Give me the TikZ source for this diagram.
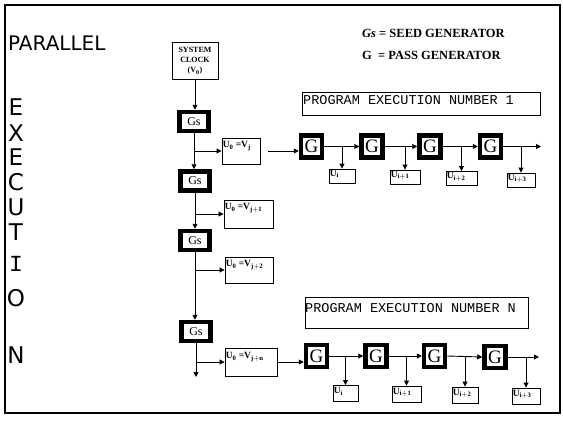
\documentclass[tikz,border=0pt]{standalone}
\usepackage{fontspec}
\setmainfont{Liberation Serif}
\newfontfamily\sansf{DejaVu Sans}
\newfontfamily\monof{Liberation Mono}
\usetikzlibrary{arrows.meta}
\begin{document}
\begin{tikzpicture}[x=1pt,y=-1pt,
  gsbox/.style={draw,line width=4.5pt,minimum width=29pt,minimum height=19pt,inner sep=0pt,font=\fontsize{12}{12}\selectfont},
  gbox/.style={draw,line width=4.5pt,minimum width=21pt,minimum height=22pt,inner sep=0pt,font=\fontsize{19}{19}\selectfont},
  thinbox/.style={draw,line width=0.9pt,inner sep=0pt},
  vtext/.style={inner sep=0pt,anchor=north west,font=\bfseries\fontsize{9.5}{9.5}\selectfont},
  utext/.style={inner sep=0pt,anchor=north west,font=\bfseries\fontsize{9.5}{9.5}\selectfont},
  pentext/.style={inner sep=0pt,anchor=west,font=\monof\fontsize{13.5}{13.5}\selectfont},
  legtext/.style={inner sep=0pt,anchor=west,font=\bfseries\fontsize{12.5}{12.5}\selectfont},
  arr/.style={line width=0.9pt,-{Triangle[length=5pt,width=5pt]}},
  vert/.style={inner sep=0pt,font=\sansf\fontsize{23}{23}\selectfont}
]
\useasboundingbox (0,0) rectangle (563,421);
\draw[line width=1.4pt] (5,5) rectangle (560,413);

% left labels
\node[inner sep=0pt,anchor=west,font=\sansf\fontsize{20}{20}\selectfont] (par) at (8,43) {PARALLEL};
\node[vert] (l1) at (16,107) {E};
\node[vert] (l2) at (16,133) {X};
\node[vert] (l3) at (16,157) {E};
\node[vert] (l4) at (16,182) {C};
\node[vert] (l5) at (16,207) {U};
\node[vert] (l6) at (16,232) {T};
\node[vert,font=\monof\fontsize{23}{23}\selectfont] (l7) at (16,264) {I};
\node[vert] (l8) at (16,298) {O};
\node[vert] (l9) at (16,355) {N};

% legend
\node[legtext] (leg1) at (362,33) {\textit{Gs} = SEED GENERATOR};
\node[legtext] (leg2) at (362,55) {G\ \ = PASS GENERATOR};

% system clock
\node[thinbox,minimum width=46pt,minimum height=37pt,align=center,font=\bfseries\fontsize{8}{10}\selectfont] (clk) at (195,61) {SYSTEM\\CLOCK\\(V$_{\mathbf 0}$)};

% seed generators
\node[gsbox] (gs1) at (194,121.5) {Gs};
\node[gsbox] (gs2) at (195,181) {Gs};
\node[gsbox] (gs3) at (195,240.5) {Gs};
\node[gsbox] (gs4) at (196,331.5) {Gs};
\coordinate (trend) at (196,377);

% value boxes
\node[thinbox,minimum width=38pt,minimum height=26pt] (v1) at (241,151) {};
\node[thinbox,minimum width=49pt,minimum height=28pt] (v2) at (248.5,214) {};
\node[thinbox,minimum width=48pt,minimum height=26pt] (v3) at (249,270) {};
\node[thinbox,minimum width=52pt,minimum height=28pt] (v4) at (251,362) {};
\node[vtext] (t1) at ([shift={(1,4)}]v1.north west) {U$_{\mathbf 0}$ =V$_{\mathbf j}$};
\node[vtext] (t2) at ([shift={(1,4)}]v2.north west) {U$_{\mathbf 0}$ =V$_{\mathbf{j+1}}$};
\node[vtext] (t3) at ([shift={(1,4)}]v3.north west) {U$_{\mathbf 0}$ =V$_{\mathbf{j+2}}$};
\node[vtext] (t4) at ([shift={(1,5)}]v4.north west) {U$_{\mathbf 0}$ =V$_{\mathbf{j+n}}$};

% trunk
\draw[arr] (clk.south) -- (clk.south |- gs1.north);
\draw[arr] (gs1.south) -- (gs1.south |- gs2.north);
\draw[arr] (gs2.south) -- (gs2.south |- gs3.north);
\draw[arr] (gs3.south) -- (gs3.south |- gs4.north);
\draw[arr] (gs4.south) -- (gs4.south |- trend);
\draw[arr] (gs1.south |- v1.west) -- (v1.west);
\draw[arr] (gs2.south |- v2.west) -- (v2.west);
\draw[arr] (gs3.south |- v3.west) -- (v3.west);
\draw[arr] (gs4.south |- v4.west) -- (v4.west);

% program execution 1
\node[thinbox,minimum width=238pt,minimum height=23pt] (pen1) at (421,103.5) {};
\node[pentext] (pt1) at (303,100) {PROGRAM EXECUTION NUMBER 1};
\node[gbox] (ga1) at (311.5,146.5) {G};
\node[gbox] (ga2) at (372,146.5) {G};
\node[gbox] (ga3) at (430,146.5) {G};
\node[gbox] (ga4) at (490.5,146.5) {G};
\coordinate (gaend) at (541,146.5);
\node[thinbox,minimum width=26pt,minimum height=14pt] (ua1) at (342,176) {};
\node[thinbox,minimum width=30pt,minimum height=14pt] (ua2) at (405,177) {};
\node[thinbox,minimum width=31pt,minimum height=14pt] (ua3) at (461.5,178.5) {};
\node[thinbox,minimum width=28pt,minimum height=14pt] (ua4) at (521,180) {};
\node[utext] at ([shift={(1,1.5)}]ua1.north west) {U$_{\mathbf i}$};
\node[utext] at ([shift={(1,1.5)}]ua2.north west) {U$_{\mathbf{i+1}}$};
\node[utext] at ([shift={(1,1.5)}]ua3.north west) {U$_{\mathbf{i+2}}$};
\node[utext] at ([shift={(1,1.5)}]ua4.north west) {U$_{\mathbf{i+3}}$};
\draw[arr,shorten <=8pt] (v1.east) -- (v1.east -| ga1.west);
\draw[arr] (ga1.east) -- (ga2.west);
\draw[arr] (ga2.east) -- (ga3.west);
\draw[arr] (ga3.east) -- (ga4.west);
\draw[arr] (ga4.east) -- (gaend);
\draw[arr] (ua1.north |- ga1.east) -- (ua1.north);
\draw[arr] (ua2.north |- ga2.east) -- (ua2.north);
\draw[arr] (ua3.north |- ga3.east) -- (ua3.north);
\draw[arr] (ua4.north |- ga4.east) -- (ua4.north);

% program execution N
\node[thinbox,minimum width=223pt,minimum height=31pt] (penN) at (416.5,312.5) {};
\node[pentext] (ptN) at (305,308) {PROGRAM EXECUTION NUMBER N};
\node[gbox] (gb1) at (316.5,356) {G};
\node[gbox] (gb2) at (376,356) {G};
\node[gbox] (gb3) at (434.5,356) {G};
\node[gbox] (gb4) at (495,357) {G};
\coordinate (gbend) at (539,357);
\node[thinbox,minimum width=25pt,minimum height=16pt] (ub1) at (345.5,393.5) {};
\node[thinbox,minimum width=29pt,minimum height=16pt] (ub2) at (406.5,394) {};
\node[thinbox,minimum width=26pt,minimum height=16pt] (ub3) at (465,395) {};
\node[thinbox,minimum width=28pt,minimum height=16pt] (ub4) at (526,396) {};
\node[utext] at ([shift={(1,2.5)}]ub1.north west) {U$_{\mathbf i}$};
\node[utext] at ([shift={(1,2.5)}]ub2.north west) {U$_{\mathbf{i+1}}$};
\node[utext] at ([shift={(1,2.5)}]ub3.north west) {U$_{\mathbf{i+2}}$};
\node[utext] at ([shift={(1,2.5)}]ub4.north west) {U$_{\mathbf{i+3}}$};
\draw[arr] (v4.east) -- (v4.east -| gb1.west);
\draw[arr] (gb1.east) -- (gb2.west);
\draw[arr] (gb2.east) -- (gb3.west);
\draw[arr] (gb3.east) -- (gb4.west);
\draw[arr] (gb4.east) -- (gbend);
\draw[arr] (ub1.north |- gb1.east) -- (ub1.north);
\draw[arr] (ub2.north |- gb2.east) -- (ub2.north);
\draw[arr] (ub3.north |- gb3.east) -- (ub3.north);
\draw[arr] (ub4.north |- gb4.east) -- (ub4.north);
\end{tikzpicture}
\end{document}
